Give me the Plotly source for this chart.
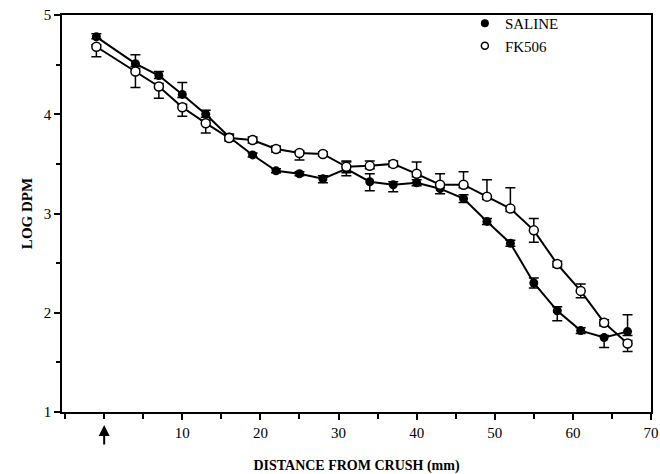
import plotly.graph_objects as go

distance = [-1, 4, 7, 10, 13, 16, 19, 22, 25, 28, 31, 34, 37, 40, 43, 46, 49, 52, 55, 58, 61, 64, 67]
saline = [4.78, 4.51, 4.39, 4.20, 4.00, 3.77, 3.59, 3.43, 3.40, 3.35, 3.45, 3.32, 3.29, 3.31, 3.25, 3.15, 2.92, 2.70, 2.30, 2.02, 1.82, 1.75, 1.81]
fk506 = [4.68, 4.43, 4.28, 4.07, 3.91, 3.76, 3.74, 3.65, 3.61, 3.60, 3.47, 3.48, 3.50, 3.40, 3.29, 3.29, 3.17, 3.05, 2.83, 2.49, 2.22, 1.90, 1.69]
saline_err_plus = [0.03, 0.09, 0.04, 0.12, 0.04, 0.03, 0.02, 0.02, 0.02, 0.03, 0.07, 0.08, 0.03, 0.03, 0.04, 0.04, 0.03, 0.03, 0.05, 0.04, 0.03, 0.02, 0.17]
saline_err_minus = [0.02, 0.03, 0.03, 0.03, 0.03, 0.02, 0.02, 0.02, 0.02, 0.04, 0.07, 0.09, 0.07, 0.03, 0.05, 0.04, 0.03, 0.03, 0.05, 0.10, 0.03, 0.10, 0.04]
fk_err_plus = [0.02, 0.03, 0.03, 0.03, 0.03, 0.03, 0.03, 0.03, 0.02, 0.02, 0.06, 0.05, 0.03, 0.12, 0.11, 0.13, 0.17, 0.21, 0.12, 0.03, 0.07, 0.03, 0.03]
fk_err_minus = [0.10, 0.16, 0.12, 0.09, 0.10, 0.03, 0.03, 0.03, 0.07, 0.02, 0.06, 0.03, 0.03, 0.03, 0.03, 0.03, 0.03, 0.03, 0.12, 0.03, 0.07, 0.03, 0.08]
x_tickvals = [10, 20, 30, 40, 50, 60, 70]
y_tickvals = [1, 2, 3, 4, 5]

FONT = "Liberation Serif, Times New Roman, serif"

fig = go.Figure()
fig.add_trace(go.Scatter(
    x=distance, y=saline, mode="lines+markers", name="SALINE", showlegend=False,
    line=dict(color="black", width=2),
    marker=dict(symbol="circle", size=9, color="black"),
    error_y=dict(type="data", symmetric=False, array=saline_err_plus, arrayminus=saline_err_minus,
                 color="black", thickness=1.5, width=5),
))
fig.add_trace(go.Scatter(
    x=distance, y=fk506, mode="lines+markers", name="FK506", showlegend=False,
    line=dict(color="black", width=2),
    marker=dict(symbol="circle", size=9, color="white", line=dict(color="black", width=1.5)),
    error_y=dict(type="data", symmetric=False, array=fk_err_plus, arrayminus=fk_err_minus,
                 color="black", thickness=1.5, width=5),
))
# legend-only entries (markers only)
fig.add_trace(go.Scatter(x=[None], y=[None], mode="markers", name="SALINE",
                         marker=dict(symbol="circle", size=8, color="black")))
fig.add_trace(go.Scatter(x=[None], y=[None], mode="markers", name="FK506",
                         marker=dict(symbol="circle", size=7, color="white", line=dict(color="black", width=1.5))))

fig.add_annotation(x=0, y=-0.033, xref="x", yref="paper", text="", showarrow=True,
                   ax=0, ay=21, arrowhead=2, arrowsize=1.1, arrowwidth=2, arrowcolor="black")

fig.update_layout(
    width=660, height=474,
    margin=dict(l=62, r=9, t=15, b=62, autoexpand=False),
    paper_bgcolor="white", plot_bgcolor="white",
    font=dict(family=FONT, color="black", size=15),
    legend=dict(x=0.684, y=1.02, xanchor="left", yanchor="top", bgcolor="rgba(0,0,0,0)",
                font=dict(family=FONT, size=15, color="black"), itemwidth=30,
                tracegroupgap=0),
    xaxis=dict(range=[-5.4, 70], tickvals=x_tickvals, ticks="outside", ticklen=6, tickwidth=1.5,
               tickcolor="black", showline=True, linecolor="black", linewidth=1.5, mirror=True,
               showgrid=False, zeroline=False, automargin=False,
               minor=dict(tickvals=[-5, 0, 5, 15, 25, 35, 45, 55, 65], ticks="outside", ticklen=5,
                          tickwidth=1.5, tickcolor="black"),
               tickfont=dict(family=FONT, size=15),
               title=dict(text="<b>DISTANCE FROM CRUSH (mm)</b>", font=dict(family=FONT, size=14), standoff=25)),
    yaxis=dict(range=[1, 5], tickvals=y_tickvals, ticks="outside", ticklen=6, tickwidth=1.5,
               tickcolor="black", showline=True, linecolor="black", linewidth=1.5, mirror=True,
               showgrid=False, zeroline=False, automargin=False,
               minor=dict(tickvals=[1.5, 2.5, 3.5, 4.5], ticks="outside", ticklen=4,
                          tickwidth=1.5, tickcolor="black"),
               tickfont=dict(family=FONT, size=15),
               title=dict(text="<b>LOG DPM</b>", font=dict(family=FONT, size=15), standoff=8)),
)

fig.write_html("out.html")
